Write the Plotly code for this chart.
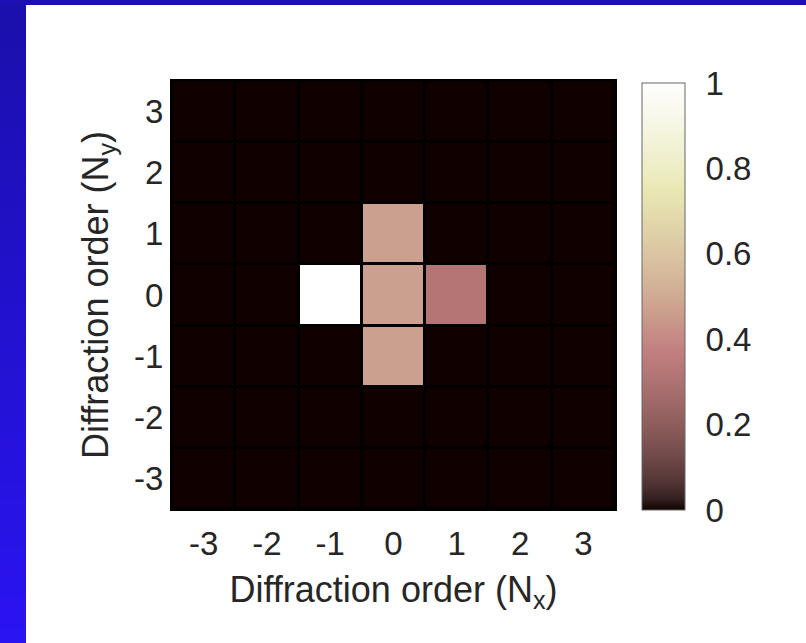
import numpy as np
import plotly.graph_objects as go

# Diffraction orders along each axis
orders_x = [-3, -2, -1, 0, 1, 2, 3]
orders_y = [-3, -2, -1, 0, 1, 2, 3]
order_labels = ["-3", "-2", "-1", "0", "1", "2", "3"]

# Normalised diffraction efficiency, rows follow orders_y (bottom to top)
row_m3 = [0, 0, 0, 0.00, 0, 0, 0]
row_m2 = [0, 0, 0, 0.00, 0, 0, 0]
row_m1 = [0, 0, 0, 0.47, 0, 0, 0]
row_0 = [0, 0, 1.0, 0.47, 0.32, 0, 0]
row_p1 = [0, 0, 0, 0.47, 0, 0, 0]
row_p2 = [0, 0, 0, 0.00, 0, 0, 0]
row_p3 = [0, 0, 0, 0.00, 0, 0, 0]
efficiency = [row_m3, row_m2, row_m1, row_0, row_p1, row_p2, row_p3]

cbar_ticks = [0, 0.2, 0.4, 0.6, 0.8, 1]

W, H = 806, 643
L, R, T, B = 172, 191, 81, 134
PW, PH = W - L - R, H - T - B

# Colorbar geometry in page pixels
CB_LEFT, CB_THICK, CB_BOTTOM, CB_LEN = 642, 43, 510, 427


def px_x(p):
    return (p - L) / PW


def px_y(p):
    return (H - B - p) / PH


def pink(v):
    # MATLAB-style "pink" colormap: sqrt((2*gray + hot)/3)
    hr = min(1.0, v / 0.375)
    hg = min(1.0, max(0.0, (v - 0.375) / 0.375))
    hb = min(1.0, max(0.0, (v - 0.75) / 0.25))
    r = np.sqrt((2 * v + hr) / 3)
    g = np.sqrt((2 * v + hg) / 3)
    b = np.sqrt((2 * v + hb) / 3)
    return f"rgb({int(r*255)},{int(g*255)},{int(b*255)})"


stops = np.linspace(0, 1, 41)
colorscale = [[float(s), pink(float(s))] for s in stops]
colorscale[0][1] = "rgb(16,0,0)"

font_family = "Liberation Sans, Arial"

fig = go.Figure()
fig.add_trace(go.Heatmap(
    x=orders_x, y=orders_y, z=efficiency,
    zmin=0, zmax=1, colorscale=colorscale,
    xgap=3, ygap=3,
    colorbar=dict(
        x=px_x(CB_LEFT), xanchor="left", xpad=0,
        y=px_y(CB_BOTTOM), yanchor="bottom", ypad=0,
        thickness=CB_THICK, thicknessmode="pixels",
        len=CB_LEN, lenmode="pixels",
        outlinecolor="#666666", outlinewidth=1,
        tickvals=cbar_ticks, ticktext=[f"{t:g}" for t in cbar_ticks],
        ticks="outside", ticklen=14, tickcolor="rgba(0,0,0,0)",
        tickfont=dict(size=33, color="#262626", family=font_family),
    ),
))

# Slide background: blue frame strips around a white panel
shapes = []
n_bands = 40
top_c = np.array([27, 16, 172])
bot_c = np.array([43, 20, 242])
for i in range(n_bands):
    f = i / (n_bands - 1)
    c = top_c + (bot_c - top_c) * f
    y0 = i * H / n_bands
    y1 = (i + 1) * H / n_bands + 1
    shapes.append(dict(type="rect", xref="paper", yref="paper", layer="below",
                       x0=px_x(0), x1=px_x(26), y0=px_y(y1), y1=px_y(y0),
                       line_width=0, fillcolor=f"rgb({int(c[0])},{int(c[1])},{int(c[2])})"))
shapes.append(dict(type="rect", xref="paper", yref="paper", layer="below",
                   x0=px_x(0), x1=px_x(W), y0=px_y(5), y1=px_y(0),
                   line_width=0, fillcolor="rgb(28,16,176)"))

# Short inward tick marks on the right edge of the colorbar
for t in cbar_ticks[1:-1]:
    yy = px_y(CB_BOTTOM - t * CB_LEN)
    shapes.append(dict(type="line", xref="paper", yref="paper", layer="above",
                       x0=px_x(CB_LEFT + CB_THICK - 4), x1=px_x(CB_LEFT + CB_THICK),
                       y0=yy, y1=yy, line=dict(color="#444444", width=1)))

fig.update_layout(
    width=W, height=H,
    margin=dict(l=L, r=R, t=T, b=B),
    paper_bgcolor="white",
    plot_bgcolor="black",
    shapes=shapes,
    font=dict(family=font_family, color="#262626"),
    xaxis=dict(
        range=[-3.5, 3.5], tickvals=orders_x, ticktext=order_labels,
        ticks="", showgrid=False, zeroline=False,
        showline=True, linecolor="black", linewidth=2, mirror=True,
        tickfont=dict(size=33), ticklabelstandoff=4,
        title=dict(text="Diffraction order (N<sub>x</sub>)", font=dict(size=36), standoff=16),
    ),
    yaxis=dict(
        range=[-3.5, 3.5], tickvals=orders_y, ticktext=order_labels,
        ticks="", showgrid=False, zeroline=False,
        showline=True, linecolor="black", linewidth=2, mirror=True,
        tickfont=dict(size=33), ticklabelstandoff=0,
        title=dict(text="Diffraction order (N<sub>y</sub>)", font=dict(size=36), standoff=14),
    ),
)

fig.write_html("out.html")
